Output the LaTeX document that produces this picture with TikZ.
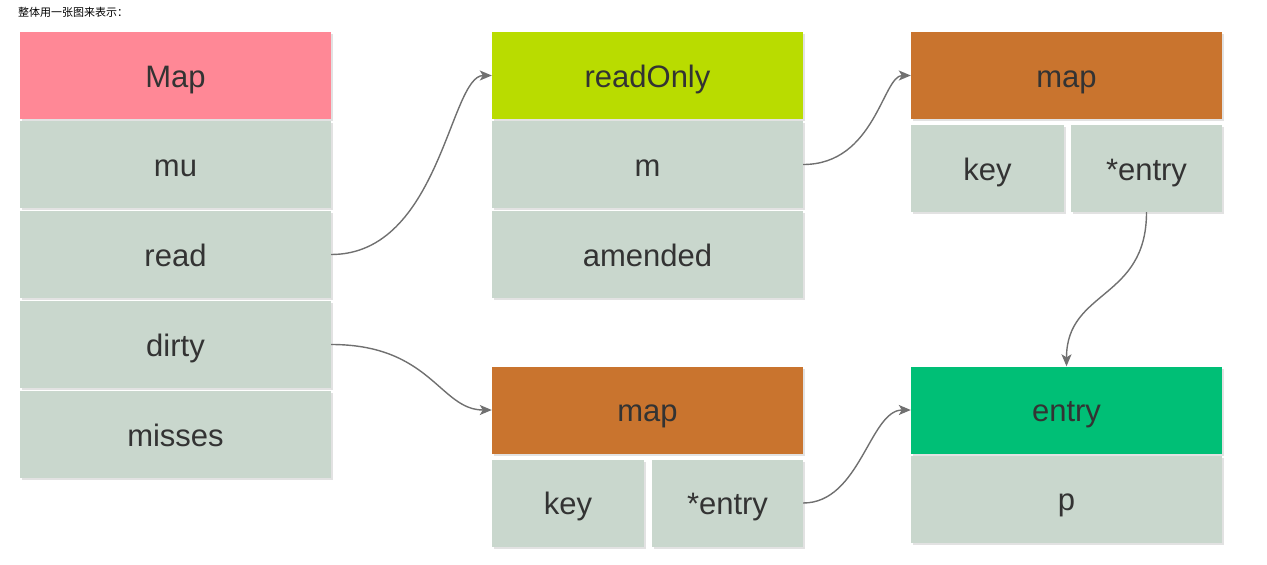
\documentclass[tikz,border=0pt]{standalone}
\usepackage{fontspec}
\setmainfont{Liberation Sans}
\newfontfamily\cjk{Noto Sans CJK SC}
\usetikzlibrary{arrows.meta,shadows}
\definecolor{pinkc}{HTML}{FF8896}
\definecolor{limec}{HTML}{B9DC00}
\definecolor{orangec}{HTML}{C9742E}
\definecolor{greenc}{HTML}{00BF76}
\definecolor{rowc}{HTML}{C9D7CD}
\definecolor{txtc}{HTML}{333333}
\definecolor{arrc}{HTML}{707070}
\definecolor{shc}{HTML}{E2E2E2}
\tikzset{
  cell/.style={fill=rowc, draw=none, inner sep=0pt, minimum height=87pt,
    text=txtc, font=\fontsize{31}{34}\selectfont, text height=23.5pt, text depth=0pt,
    general shadow={fill=shc, shadow xshift=2pt, shadow yshift=-2pt}},
  wide/.style={cell, minimum width=311pt},
  conn/.style={draw=arrc, line width=1.4pt, -{Stealth[length=12pt,width=10pt,inset=3pt]}}
}
\begin{document}
\begin{tikzpicture}[x=1pt,y=-1pt]
\useasboundingbox (0,0) rectangle (1267,565);
\node[anchor=west, font=\cjk\fontsize{11}{13}\selectfont, inner sep=0pt] (title) at (18,12) {整体用一张图来表示：};
% Map column
\node[wide, fill=pinkc] (Map) at (175.5,75.5) {Map};
\node[wide] (mu) at (175.5,164.5) {mu};
\node[wide] (read) at (175.5,254.5) {read};
\node[wide] (dirty) at (175.5,344.5) {dirty};
\node[wide] (misses) at (175.5,434.5) {misses};
% readOnly column
\node[wide, fill=limec] (readOnly) at (647.5,75.5) {readOnly};
\node[wide] (m) at (647.5,164.5) {m};
\node[wide] (amended) at (647.5,254.5) {amended};
% top map
\node[wide, fill=orangec] (map1) at (1066.5,75.5) {map};
\node[cell, minimum width=153pt] (key1) at (987.5,168.5) {key};
\node[cell, minimum width=151pt] (entry1) at (1146.5,168.5) {*entry};
% bottom map
\node[wide, fill=orangec] (map2) at (647.5,410) {map};
\node[cell, minimum width=152pt] (key2) at (568,503) {key};
\node[cell, minimum width=151pt] (entry2) at (727.5,503) {*entry};
% entry
\node[wide, fill=greenc] (entry) at (1066.5,410) {entry};
\node[wide] (p) at (1066.5,499) {p};
% connectors
\draw[conn] (read.east) .. controls +(109,0) and +(-42,0) .. (readOnly.west);
\draw[conn] (m.east) .. controls +(72,0) and +(-28,0) .. (map1.west);
\draw[conn] (dirty.east) .. controls +(100,0) and +(-52,0) .. (map2.west);
\draw[conn] (entry2.east) .. controls +(57,0) and +(-41,0) .. (entry.west);
\draw[conn] (entry1.south) .. controls +(0,88) and +(0,-77) .. (entry.north);
\end{tikzpicture}
\end{document}
